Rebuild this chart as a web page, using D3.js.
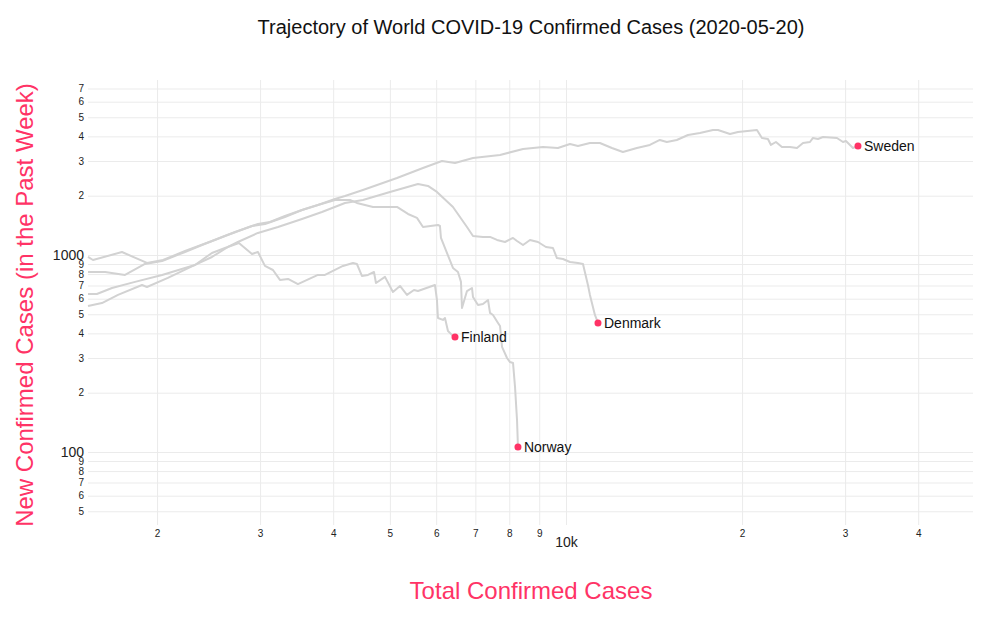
<!DOCTYPE html>
<html>
<head>
<meta charset="utf-8">
<script src="https://cdn.jsdelivr.net/npm/d3@7"></script>
<style>
  html, body { margin: 0; padding: 0; background: #fff; }
  svg { display: block; font-family: Arial, "Liberation Sans", sans-serif; }
</style>
</head>
<body>
<svg id="chart" width="993" height="618"></svg>
<script>
// ---------------- data ----------------
const countries = ["Sweden", "Norway", "Denmark", "Finland"];

const swedenTotal = [1524,1630,1763,1907,2040,2233,2387,2613,2906,3059,3308,3538,3767,4029,4190,4497,5142,5696,6138,6461,6935,7714,8445,9135,9688,10158,10483,10989,11430,11982,12511,13218,13912,14469,14872,15469,16164,16942,17835,18192,19070,19678,21205,21626,22143,22406,22850,23396,24143,24823,25418,26124,26435,26962,27500,29054,29750,30102,30944,31560];
const swedenNew   = [820,820,792,900,932,1036,1124,1249,1403,1437,1559,1692,1794,1924,1994,2138,2460,2765,3000,2931,3107,3218,3452,3533,3493,3660,3575,3703,3703,3493,3333,3493,3617,3835,3746,3835,4065,4161,4310,4310,4113,4210,4310,3926,3880,3617,3746,3533,3533,3493,3703,3746,3926,3880,3971,3926,3746,3790,3493,3575];

const norwayTotal = [1524,1554,1742,1922,2048,2233,2482,2718,2975,3119,3308,3538,3767,4029,4273,4392,4679,5142,5370,5563,5696,6042,6090,6114,6410,6537,6615,6641,6773,6908,6935,7073,7213,7358,7416,7504,7653,7714,7775,7929,8023,8119,8183,8248,8278];
const norwayNew   = [977,943,1035,911,943,1048,1178,1308,1437,1471,1577,1692,1794,1902,1902,1837,1753,1753,1615,1542,1387,1420,1403,1220,859,820,730,538,656,680,612,557,564,591,508,496,452,436,342,300,286,283,214,145,106];

const denmarkTotal = [1524,1578,1675,1834,2040,2233,2322,2482,2644,2749,2975,3219,3538,3827,4190,4497,5002,5585,5809,6018,6410,6773,6935,7213,7416,7623,7867,8119,8248,8445,8680,8957,9242,9501,9650,9882,10158,10483,10692,10903,10989,11207,11343];
const denmarkNew   = [634,634,680,730,792,859,890,977,1098,1164,1294,1387,1524,1653,1837,1902,2089,2294,2241,2089,1753,1387,1249,1235,1235,1192,1164,1220,1178,1124,1192,1164,1098,1085,965,954,921,911,900,704,627,496,452];

const finlandTotal = [1524,1610,1715,1885,1922,2087,2322,2482,2613,2760,2906,2975,3058,3156,3244,3349,3482,3767,3873,4157,4324,4392,4479,4588,4697,4734,4905,5061,5203,5348,5498,5585,5971,6018,6042,6162,6211,6285,6384,6461];
const finlandNew   = [551,570,627,704,688,765,890,1024,1085,1151,1012,1035,880,839,747,756,712,792,792,880,911,900,783,792,820,721,774,649,696,627,664,656,704,591,479,468,479,411,393,383];

const xTickValues = [2000,3000,4000,5000,6000,7000,8000,9000,10000,20000,30000,40000];
const xTickLabels = ["2","3","4","5","6","7","8","9","10k","2","3","4"];
const yTickValues = [50,60,70,80,90,100,200,300,400,500,600,700,800,900,1000,2000,3000,4000,5000,6000,7000];
const yTickLabels = ["5","6","7","8","9","100","2","3","4","5","6","7","8","9","1000","2","3","4","5","6","7"];

const chartTitle = "Trajectory of World COVID-19 Confirmed Cases (2020-05-20)";
const xTitle = "Total Confirmed Cases";
const yTitle = "New Confirmed Cases (in the Past Week)";

// ---------------- layout ----------------
const seriesTotals = { Sweden: swedenTotal, Norway: norwayTotal, Denmark: denmarkTotal, Finland: finlandTotal };
const seriesNew = { Sweden: swedenNew, Norway: norwayNew, Denmark: denmarkNew, Finland: finlandNew };

const plot = { left: 88, right: 973, top: 80, bottom: 525 };
const accent = "rgb(255,51,102)";
const isMajor = v => Math.abs(Math.log10(v) - Math.round(Math.log10(v))) < 1e-9;

const svg = d3.select("#chart");
const x = d3.scaleLog().domain([1524, 49630]).range([plot.left, plot.right]);
const y = d3.scaleLog().domain([42.6, 7730]).range([plot.bottom, plot.top]);

// grid + y axis
const yAxis = d3.axisLeft(y)
  .tickValues(yTickValues)
  .tickFormat((d, i) => yTickLabels[i])
  .tickSize(-(plot.right - plot.left))
  .tickPadding(4);
const gy = svg.append("g").attr("transform", `translate(${plot.left},0)`).call(yAxis);
gy.select(".domain").remove();
gy.selectAll(".tick line").attr("stroke", "#ebebeb").attr("stroke-width", 1);
gy.selectAll(".tick text")
  .attr("fill", "#222")
  .attr("font-family", "Arial, 'Liberation Sans', sans-serif")
  .attr("font-size", d => isMajor(d) ? 14 : 10);

// grid + x axis
const xAxis = d3.axisBottom(x)
  .tickValues(xTickValues)
  .tickFormat((d, i) => xTickLabels[i])
  .tickSize(-(plot.bottom - plot.top))
  .tickPadding(0);
const gx = svg.append("g").attr("transform", `translate(0,${plot.bottom})`).call(xAxis);
gx.select(".domain").remove();
gx.selectAll(".tick line").attr("stroke", "#ebebeb").attr("stroke-width", 1);
gx.selectAll(".tick text")
  .attr("fill", "#222")
  .attr("font-family", "Arial, 'Liberation Sans', sans-serif")
  .attr("font-size", d => isMajor(d) ? 14 : 10)
  .attr("dy", null)
  .attr("y", d => isMajor(d) ? 22 : 12);

// lines
const line = d3.line().x(d => x(d[0])).y(d => y(d[1]));
countries.forEach(c => {
  const pts = seriesTotals[c].map((t, i) => [t, seriesNew[c][i]]);
  svg.append("path")
    .datum(pts)
    .attr("fill", "none")
    .attr("stroke", "#d2d2d2")
    .attr("stroke-width", 2)
    .attr("stroke-linejoin", "round")
    .attr("d", line);
});

// end markers + labels
countries.forEach(c => {
  const t = seriesTotals[c], n = seriesNew[c];
  const lx = x(t[t.length - 1]), ly = y(n[n.length - 1]);
  svg.append("circle").attr("cx", lx).attr("cy", ly).attr("r", 3.5).attr("fill", accent);
  svg.append("text").attr("x", lx + 6).attr("y", ly).attr("dy", "0.35em")
    .attr("font-size", 14).attr("fill", "#111").text(c);
});

// titles
svg.append("text").attr("x", 531).attr("y", 34).attr("text-anchor", "middle")
  .attr("font-size", 20).attr("fill", "#111").text(chartTitle);
svg.append("text").attr("x", 531).attr("y", 599).attr("text-anchor", "middle")
  .attr("font-size", 24).attr("fill", accent).text(xTitle);
svg.append("text").attr("transform", "translate(33,305) rotate(-90)").attr("text-anchor", "middle")
  .attr("font-size", 24).attr("fill", accent).text(yTitle);
</script>
</body>
</html>
